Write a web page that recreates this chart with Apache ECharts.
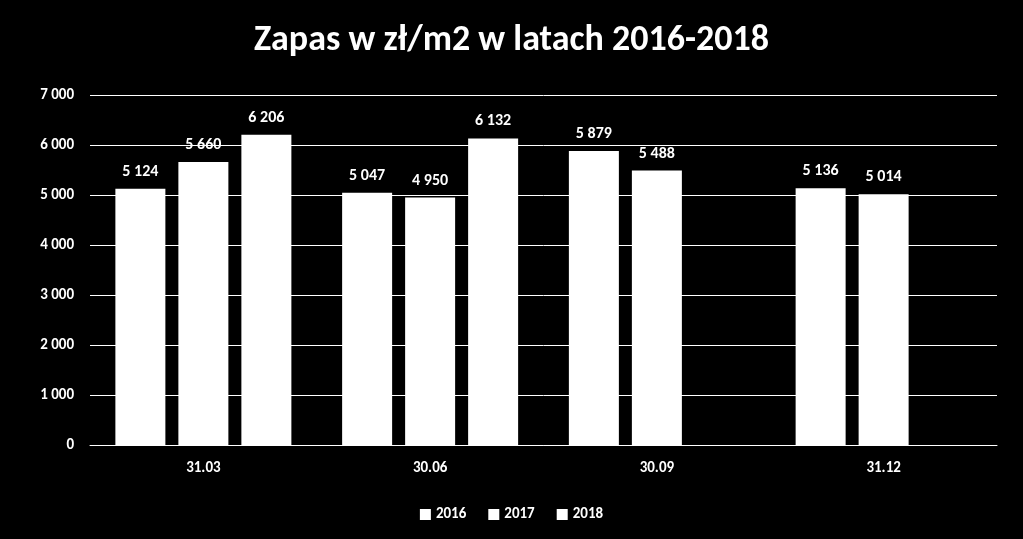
<!DOCTYPE html>
<html><head><meta charset="utf-8">
<script src="https://cdn.jsdelivr.net/npm/echarts@6/dist/echarts.min.js"></script>
<style>html,body{margin:0;background:#000}#c{width:1023px;height:539px}</style>
</head><body><div id="c"></div>
<script>
const categories = ['31.03','30.06','30.09','31.12'];
const s2016 = [5124, 5047, 5879, 5136];
const s2017 = [5660, 4950, 5488, 5014];
const s2018 = [6206, 6132, null, null];
const seriesNames = ['2016','2017','2018'];
const fmt = v => String(v).replace(/\B(?=(\d{3})+(?!\d))/g, ' ');
const font = 'Calibri, Carlito, "Liberation Sans", Arial, sans-serif';
const mk = (name, data) => ({
  name, type: 'bar', data, barWidth: 50, barGap: '26%',
  itemStyle: { color: '#fff' },
  label: { show: true, position: 'top', distance: 9, color: '#fff', fontWeight: 'bold', fontSize: 16, fontFamily: font,
    formatter: p => fmt(p.value) }
});
const chart = echarts.init(document.getElementById('c'));
chart.setOption({
  backgroundColor: '#000',
  title: { text: 'Zapas w zł/m2 w latach 2016-2018', left: 'center', top: 18,
    textStyle: { color: '#fff', fontSize: 36, fontWeight: 'bold', fontFamily: font } },
  legend: { bottom: 12, left: 'center', itemWidth: 11, itemHeight: 11, itemGap: 22, icon: 'rect',
    textStyle: { color: '#fff', fontWeight: 'bold', fontSize: 15, fontFamily: font } },
  grid: { left: 90, right: 26, top: 95, bottom: 94 },
  xAxis: { type: 'category', data: categories,
    axisLine: { lineStyle: { color: '#fff' } }, axisTick: { show: false },
    axisLabel: { color: '#fff', fontWeight: 'bold', fontSize: 15, margin: 16, fontFamily: font } },
  yAxis: { type: 'value', min: 0, max: 7000, interval: 1000,
    axisLabel: { color: '#fff', fontWeight: 'bold', fontSize: 15, margin: 16, fontFamily: font, formatter: v => fmt(v) },
    splitLine: { lineStyle: { color: '#fff', width: 1 } } },
  series: [mk(seriesNames[0], s2016), mk(seriesNames[1], s2017), mk(seriesNames[2], s2018)]
});
</script></body></html>
